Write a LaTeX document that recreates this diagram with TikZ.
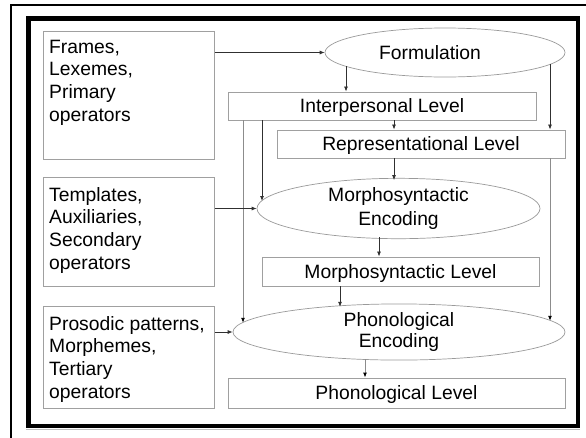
\documentclass[tikz,border=0pt]{standalone}
\usepackage{fontspec}
\setmainfont{Liberation Sans}
\usetikzlibrary{shapes.geometric,arrows.meta}
\definecolor{boxgray}{HTML}{A0A0A0}
\definecolor{ellgray}{HTML}{9A9A9A}
\definecolor{arrdark}{HTML}{303030}
\definecolor{linegray}{HTML}{8C8C8C}
\begin{document}
\begin{tikzpicture}[x=1pt,y=-1pt,
  txt/.style={font=\fontsize{19.3}{22.7}\selectfont},
  lbox/.style={draw=boxgray,line width=0.9pt,inner sep=0pt,anchor=north west},
  ltext/.style={txt,inner sep=0pt,anchor=north west,align=left},
  levbox/.style={draw=boxgray,line width=0.9pt,inner sep=0pt,txt,text height=13.8pt,text depth=0pt},
  ell/.style={draw=ellgray,line width=0.7pt,ellipse,inner sep=0pt,txt,align=center},
  arr/.style={draw=arrdark,line width=0.8pt,-{Latex[length=5pt,width=4pt]}},
  garr/.style={draw=linegray,line width=0.9pt,-{Latex[length=5pt,width=4pt,color=black]}}
]
\useasboundingbox (0,0) rectangle (586,437);
\fill[white] (0,0) rectangle (586,437);
% frames
\draw[line width=2pt] (11,600) -- (11,5) -- (700,5);
\draw[line width=4.5pt] (28.5,18.5) rectangle (578,426);
\draw[lightgray,line width=0.8pt] (26,429.5) -- (580,429.5);

% left boxes
\node[lbox,minimum width=171pt,minimum height=128pt] (b1) at (43,31) {};
\node[ltext] (t1) at (49,37) {\strut Frames,\\Lexemes,\\Primary\\operators};
\node[lbox,minimum width=171pt,minimum height=109pt] (b2) at (43,177) {};
\node[ltext] (t2) at (49,185) {\strut Templates,\\Auxiliaries,\\Secondary\\operators};
\node[lbox,minimum width=171pt,minimum height=102pt] (b3) at (43,306) {};
\node[ltext] (t3) at (49,314) {\strut Prosodic patterns,\\Morphemes,\\Tertiary\\operators};

% ellipses
\node[ell,minimum width=240pt,minimum height=49pt] (form) at (445,52.5) {};
\node[txt,inner sep=0pt] (formt) at (430,52.5) {Formulation};
\node[ell,minimum width=283pt,minimum height=57pt] (me) at (398.5,208.5) {Morphosyntactic\\[2pt]Encoding};
\node[ell,minimum width=332pt,minimum height=54pt] (pe) at (399,332) {Phonological\\[-1pt]Encoding};

% level boxes
\node[levbox,minimum width=308pt,minimum height=28pt] (ip) at (382,106) {Interpersonal Level};
\node[levbox,minimum width=288pt,minimum height=28pt] (rep) at (421,144) {Representational Level};
\node[levbox,minimum width=277pt,minimum height=29pt] (ml) at (400.5,271.5) {Morphosyntactic Level};
\node[levbox,minimum width=337pt,minimum height=30pt] (pl) at (396.5,393) {Phonological Level};

% border points on ellipses
\coordinate (f1) at (346,66.3);
\coordinate (f2) at (550,64.4);
\coordinate (m1) at (394,180.1);
\coordinate (m2) at (262,201);
\coordinate (m3) at (379,237);
\coordinate (p1) at (243,322.8);
\coordinate (p2) at (340,306.8);
\coordinate (p3) at (550,320.8);
\coordinate (p4) at (365,359);

% connectors
\draw[arr] (b1.east |- form.west) -- (form.west);
\draw[arr] (f1) -- (f1 |- ip.north);
\draw[arr] (f2) -- (f2 |- rep.north);
\draw[arr] (ip.south -| m1) -- (m1 |- rep.north);
\draw[arr] (rep.south -| m1) -- (m1);
\draw[arr] (ip.south -| m2) -- (m2);
\draw[garr] (ip.south -| p1) -- (p1);
\draw[arr] (b2.east |- me.west) -- (me.west);
\draw[arr] (m3) -- (m3 |- ml.north);
\draw[arr] (ml.south -| p2) -- (p2);
\draw[arr] (b3.east |- pe.west) -- (pe.west);
\draw[garr] (rep.south -| p3) -- (p3);
\draw[garr] (p4) -- (p4 |- pl.north);
\end{tikzpicture}
\end{document}
